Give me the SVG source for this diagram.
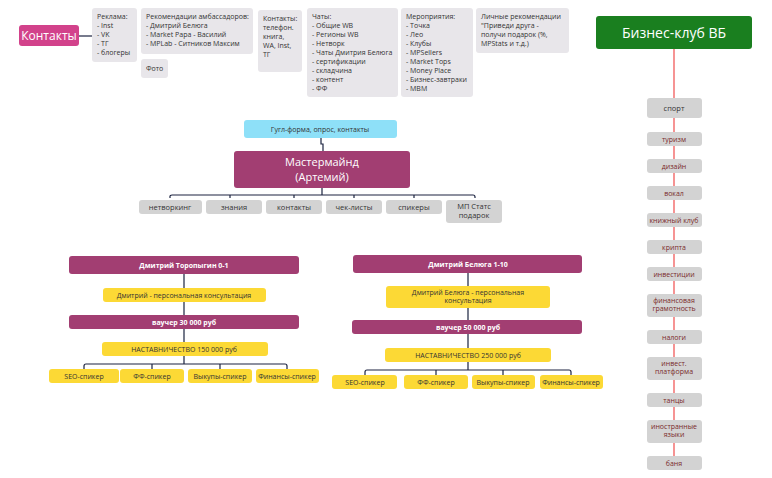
<svg xmlns="http://www.w3.org/2000/svg" width="772" height="478" viewBox="0 0 772 478">
<style>
text{font-family:"Open Sans","Liberation Sans",sans-serif;}
.g{fill:#e8e6ea;}
.gt{font-size:7px;fill:#333;}
.gr{fill:#d3d3d3;}
.grt{font-size:7.5px;fill:#333;text-anchor:middle;}
.rt{font-size:7px;fill:#7a2a2a;text-anchor:middle;}
.p{fill:#a23e72;}
.pt{font-size:7px;fill:#fff;text-anchor:middle;font-weight:bold;}
.y{fill:#fcd935;}
.yt{font-size:7px;fill:#333;text-anchor:middle;}
.c{fill:none;stroke:#1c2340;stroke-width:1.2;}
.r{stroke:#f04c4c;stroke-width:1.2;}
</style>
<g id="connectors">
<line class="r" x1="674" y1="49" x2="674" y2="462"/>
<line class="c" x1="79" y1="36" x2="92" y2="36"/>
<path class="c" d="M321,138 V144 H323 V151"/>
<path class="c" d="M322,188 V195 M170,198 V196 Q170,195 172,195 H473 Q475,195 475,197 V198 M230,195 V198 M294,195 V198 M354,195 V198 M414,195 V198"/>
<path class="c" d="M184,274 V288 M184,302 V315 M184,329 V342 M184,356 V364 M84,369 V366 Q84,364 86,364 H285 Q287,364 287,366 V369 M152,364 V369 M220,364 V369"/>
<path class="c" d="M468,273 V286 M468,308 V320 M468,334 V348 M468,362 V370 M365,375 V372 Q365,370 367,370 H569 Q571,370 571,372 V375 M436,370 V375 M503,370 V375"/>
</g>
<g id="kontakty"><rect x="19" y="25" width="60" height="21" rx="3" fill="#d2428b"/><text x="49" y="40" font-size="12" fill="#fff" text-anchor="middle">Контакты</text></g>
<g id="reklama"><rect class="g" x="92" y="8" width="45" height="54" rx="3"/><text class="gt" x="97" y="19">Реклама:<tspan x="97" dy="9">- Inst</tspan><tspan x="97" dy="9">- VK</tspan><tspan x="97" dy="9">- ТГ</tspan><tspan x="97" dy="9">- блогеры</tspan></text></g>
<g id="rekom"><rect class="g" x="141" y="8" width="112" height="46" rx="3"/><text class="gt" x="146" y="19">Рекомендации амбассадоров:<tspan x="146" dy="9">- Дмитрий Белюга</tspan><tspan x="146" dy="9">- Market Papa - Василий</tspan><tspan x="146" dy="9">- MPLab - Ситников Максим</tspan></text></g>
<g id="foto"><rect class="g" x="141" y="59" width="27" height="19" rx="3"/><text class="gt" x="146" y="71">Фото</text></g>
<g id="kont2"><rect class="g" x="258" y="10" width="44" height="62" rx="3"/><text class="gt" x="263" y="21">Контакты:<tspan x="263" dy="9">телефон.</tspan><tspan x="263" dy="9">книга,</tspan><tspan x="263" dy="9">WA, Inst,</tspan><tspan x="263" dy="9">ТГ</tspan></text></g>
<g id="chaty"><rect class="g" x="307" y="8" width="91" height="89" rx="3"/><text class="gt" x="312" y="19">Чаты:<tspan x="312" dy="9">- Общие WB</tspan><tspan x="312" dy="9">- Регионы WB</tspan><tspan x="312" dy="9">- Нетворк</tspan><tspan x="312" dy="9">- Чаты Дмитрия Белюга</tspan><tspan x="312" dy="9">- сертификации</tspan><tspan x="312" dy="9">- складчина</tspan><tspan x="312" dy="9">- контент</tspan><tspan x="312" dy="9">- ФФ</tspan></text></g>
<g id="meropr"><rect class="g" x="401" y="8" width="72" height="89" rx="3"/><text class="gt" x="406" y="19">Мероприятия:<tspan x="406" dy="9">- Точка</tspan><tspan x="406" dy="9">- Лео</tspan><tspan x="406" dy="9">- Клубы</tspan><tspan x="406" dy="9">- MPSellers</tspan><tspan x="406" dy="9">- Market Tops</tspan><tspan x="406" dy="9">- Money Place</tspan><tspan x="406" dy="9">- Бизнес-завтраки</tspan><tspan x="406" dy="9">- MBM</tspan></text></g>
<g id="lichnye"><rect class="g" x="476" y="8" width="93" height="45" rx="3"/><text class="gt" x="481" y="19">Личные рекомендации<tspan x="481" dy="9">"Приведи друга -</tspan><tspan x="481" dy="9">получи подарок (%,</tspan><tspan x="481" dy="9">MPStats и т.д.)</tspan></text></g>
<g id="biz"><rect x="596" y="16" width="156" height="33" rx="3" fill="#1a7f1f"/><text x="674" y="38" font-size="14" fill="#fff" text-anchor="middle">Бизнес-клуб ВБ</text></g>
<g id="sport"><rect class="gr" x="647" y="98" width="55" height="20" rx="3"/><text class="grt" x="674" y="111">спорт</text></g>
<g id="turizm"><rect class="gr" x="647" y="132" width="55" height="14" rx="3"/><text class="rt" x="674" y="142">туризм</text></g>
<g id="dizain"><rect class="gr" x="647" y="159" width="55" height="14" rx="3"/><text class="rt" x="674" y="169">дизайн</text></g>
<g id="vokal"><rect class="gr" x="647" y="186" width="55" height="14" rx="3"/><text class="rt" x="674" y="196">вокал</text></g>
<g id="kniga"><rect class="gr" x="647" y="213" width="55" height="14" rx="3"/><text class="rt" x="674" y="223">книжный клуб</text></g>
<g id="kripta"><rect class="gr" x="647" y="240" width="55" height="14" rx="3"/><text class="rt" x="674" y="250">крипта</text></g>
<g id="invest"><rect class="gr" x="647" y="267" width="55" height="14" rx="3"/><text class="rt" x="674" y="277">инвестиции</text></g>
<g id="fin"><rect class="gr" x="647" y="294" width="55" height="23" rx="3"/><text class="rt" x="674" y="303">финансовая<tspan x="674" dy="8">грамотность</tspan></text></g>
<g id="nalogi"><rect class="gr" x="647" y="330" width="55" height="14" rx="3"/><text class="rt" x="674" y="340">налоги</text></g>
<g id="platf"><rect class="gr" x="647" y="357" width="55" height="23" rx="3"/><text class="rt" x="674" y="366">инвест.<tspan x="674" dy="8">платформа</tspan></text></g>
<g id="tancy"><rect class="gr" x="647" y="393" width="55" height="14" rx="3"/><text class="rt" x="674" y="403">танцы</text></g>
<g id="yazyki"><rect class="gr" x="647" y="420" width="55" height="23" rx="3"/><text class="rt" x="674" y="429">иностранные<tspan x="674" dy="8">языки</tspan></text></g>
<g id="banya"><rect class="gr" x="647" y="456" width="55" height="14" rx="3"/><text class="rt" x="674" y="466">баня</text></g>
<g id="gugl"><rect x="244" y="120" width="153" height="18" rx="3" fill="#8ee0f8"/><text class="yt" x="320" y="132">Гугл-форма, опрос, контакты</text></g>
<g id="master"><rect class="p" x="234" y="151" width="176" height="37" rx="3"/><text x="322" y="166" font-size="11" fill="#fff" text-anchor="middle">Мастермайнд<tspan x="322" dy="15">(Артемий)</tspan></text></g>
<g id="net"><rect class="gr" x="139" y="200" width="63" height="14" rx="3"/><text class="grt" x="170" y="210">нетворкинг</text></g>
<g id="znan"><rect class="gr" x="206" y="200" width="56" height="14" rx="3"/><text class="grt" x="234" y="210">знания</text></g>
<g id="kont3"><rect class="gr" x="266" y="200" width="56" height="14" rx="3"/><text class="grt" x="294" y="210">контакты</text></g>
<g id="chek"><rect class="gr" x="326" y="200" width="56" height="14" rx="3"/><text class="grt" x="354" y="210">чек-листы</text></g>
<g id="spik"><rect class="gr" x="386" y="200" width="56" height="14" rx="3"/><text class="grt" x="414" y="210">спикеры</text></g>
<g id="mp"><rect class="gr" x="446" y="200" width="56" height="23" rx="3"/><text class="grt" x="474" y="209">МП Статс<tspan x="474" dy="9">подарок</tspan></text></g>
<g id="tor"><rect class="p" x="69" y="256" width="230" height="18" rx="3"/><text class="pt" x="184" y="268">Дмитрий Торопыгин 0-1</text></g>
<g id="tor2"><rect class="y" x="103" y="288" width="163" height="14" rx="3"/><text class="yt" x="184" y="298">Дмитрий  - персональная консультация</text></g>
<g id="tor3"><rect class="p" x="69" y="315" width="230" height="14" rx="3"/><text class="pt" x="184" y="325">ваучер 30 000 руб</text></g>
<g id="tor4"><rect class="y" x="102" y="342" width="166" height="14" rx="3"/><text class="yt" x="184" y="352">НАСТАВНИЧЕСТВО 150 000 руб</text></g>
<g id="l1"><rect class="y" x="49" y="369" width="70" height="14" rx="3"/><text class="yt" x="84" y="379">SEO-спикер</text></g>
<g id="l2"><rect class="y" x="120" y="369" width="64" height="14" rx="3"/><text class="yt" x="152" y="379">ФФ-спикер</text></g>
<g id="l3"><rect class="y" x="188" y="369" width="64" height="14" rx="3"/><text class="yt" x="220" y="379">Выкупы-спикер</text></g>
<g id="l4"><rect class="y" x="256" y="369" width="63" height="14" rx="3"/><text class="yt" x="287" y="379">Финансы-спикер</text></g>
<g id="bel"><rect class="p" x="353" y="255" width="229" height="18" rx="3"/><text class="pt" x="468" y="267">Дмитрий Белюга 1-10</text></g>
<g id="bel2"><rect class="y" x="386" y="286" width="164" height="22" rx="3"/><text class="yt" x="468" y="295">Дмитрий Белюга - персональная<tspan x="468" dy="8">консультация</tspan></text></g>
<g id="bel3"><rect class="p" x="352" y="320" width="230" height="14" rx="3"/><text class="pt" x="468" y="330">ваучер 50 000 руб</text></g>
<g id="bel4"><rect class="y" x="385" y="348" width="166" height="14" rx="3"/><text class="yt" x="468" y="358">НАСТАВНИЧЕСТВО 250 000 руб</text></g>
<g id="r1"><rect class="y" x="332" y="375" width="65" height="14" rx="3"/><text class="yt" x="365" y="385">SEO-спикер</text></g>
<g id="r2"><rect class="y" x="404" y="375" width="64" height="14" rx="3"/><text class="yt" x="436" y="385">ФФ-спикер</text></g>
<g id="r3"><rect class="y" x="472" y="375" width="63" height="14" rx="3"/><text class="yt" x="503" y="385">Выкупы-спикер</text></g>
<g id="r4"><rect class="y" x="540" y="375" width="63" height="14" rx="3"/><text class="yt" x="571" y="385">Финансы-спикер</text></g>
</svg>
